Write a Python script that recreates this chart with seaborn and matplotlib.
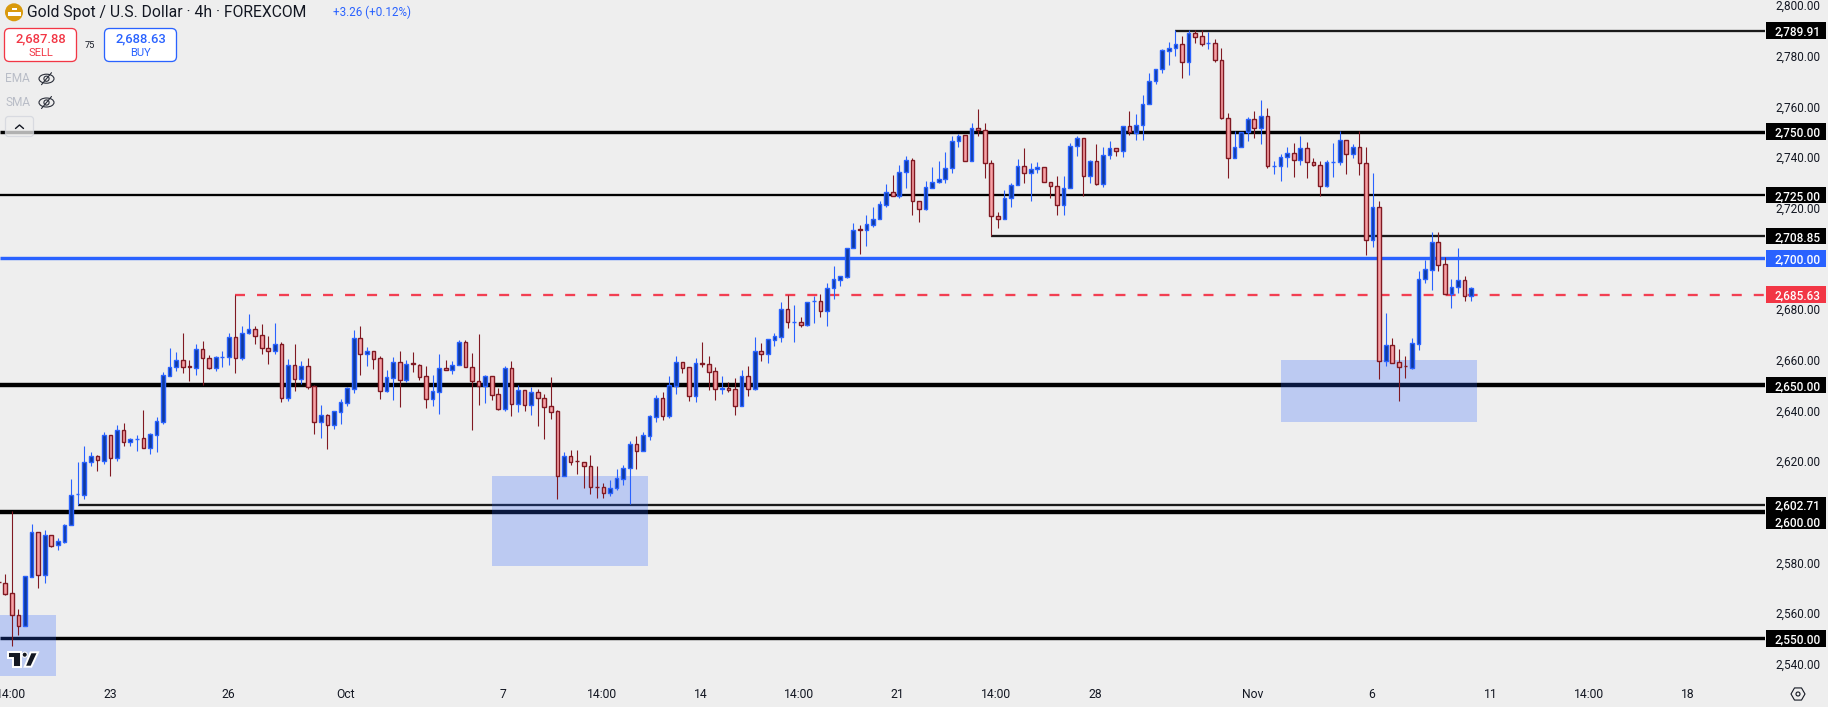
import numpy as np
import pandas as pd
import matplotlib
matplotlib.use("Agg")
import matplotlib.pyplot as plt
import matplotlib.transforms as mtransforms
from matplotlib.patches import Rectangle, FancyBboxPatch, Circle, Ellipse, Polygon, RegularPolygon
import seaborn as sns

# 4h candles
opens = [
    2572.3,2571.8,2567.8,2559.2,2555.1,2574.4,2591.9,2575.2,2590.7,2586.7,
    2588.2,2594.6,2606.9,2606.8,2619.6,2621.9,2620.2,2630.2,2621.4,2632.2,
    2627.7,2628.8,2629.0,2625.3,2630.4,2635.6,2653.7,2657.0,2660.1,2657.4,
    2656.8,2664.4,2660.5,2656.8,2660.9,2661.2,2668.8,2660.8,2670.7,2672.3,
    2669.6,2664.8,2663.5,2666.4,2645.0,2658.1,2652.5,2657.7,2649.5,2635.6,
    2638.1,2634.4,2639.5,2643.0,2648.6,2668.4,2662.3,2663.3,2660.5,2647.8,
    2652.9,2659.3,2652.1,2658.6,2658.1,2653.4,2644.6,2647.4,2656.6,2655.8,
    2658.1,2667.2,2657.3,2651.8,2649.7,2653.4,2646.3,2640.7,2656.6,2642.7,
    2647.9,2642.3,2647.1,2645.1,2641.6,2639.6,2614.3,2621.9,2620.1,2619.6,
    2618.0,2609.8,2609.7,2607.6,2609.2,2613.1,2617.1,2626.6,2623.8,2630.1,
    2637.5,2644.8,2637.9,2649.7,2659.3,2657.0,2645.8,2658.9,2658.5,2655.4,
    2648.6,2648.7,2648.3,2641.9,2653.4,2648.6,2663.6,2662.3,2667.8,2669.0,
    2680.2,2675.0,2675.1,2673.8,2683.1,2683.3,2679.3,2688.5,2691.6,2692.8,
    2704.2,2711.5,2711.4,2713.3,2715.6,2721.1,2726.4,2724.8,2734.1,2739.0,
    2722.8,2719.6,2727.8,2730.2,2731.4,2735.7,2746.5,2748.8,2738.4,2751.6,
    2750.8,2737.7,2716.8,2715.4,2723.7,2728.9,2736.5,2733.6,2735.2,2736.1,
    2730.2,2728.6,2721.2,2727.7,2744.3,2747.6,2732.5,2738.5,2729.2,2740.8,
    2743.7,2742.3,2752.4,2749.7,2752.6,2760.9,2770.0,2774.8,2781.9,2783.1,
    2784.8,2777.6,2788.8,2787.6,2784.9,2785.2,2778.5,2755.5,2739.6,2744.1,
    2749.9,2755.1,2751.5,2756.3,2736.4,2736.4,2740.0,2741.7,2738.8,2743.7,
    2738.1,2736.9,2728.5,2738.0,2738.0,2746.8,2741.2,2744.1,2737.7,2707.1,
    2720.3,2659.6,2665.7,2659.0,2657.5,2656.9,2666.4,2691.7,2695.6,2706.5,
    2697.8,2686.1,2688.7,2691.4,2685.0,
]
highs = [
    2572.6,2575.5,2600.3,2561.7,2574.5,2595.1,2591.9,2592.8,2590.7,2589.6,
    2595.1,2613.0,2619.6,2626.0,2623.6,2622.4,2631.5,2630.2,2634.3,2635.0,
    2629.1,2630.3,2640.2,2631.1,2637.4,2655.1,2664.6,2663.0,2670.5,2659.8,
    2666.1,2667.3,2661.8,2661.4,2663.4,2670.5,2685.4,2673.2,2678.0,2673.2,
    2674.0,2669.3,2674.4,2666.9,2660.2,2666.1,2659.4,2660.6,2650.0,2642.1,
    2638.6,2639.6,2644.5,2649.2,2671.7,2673.2,2665.0,2663.3,2661.4,2655.9,
    2661.0,2663.4,2659.8,2663.0,2658.5,2657.5,2653.9,2662.2,2659.8,2659.4,
    2667.7,2667.7,2662.6,2670.0,2653.9,2653.4,2648.8,2657.5,2659.7,2650.0,
    2647.9,2649.2,2648.4,2646.5,2653.1,2640.2,2623.6,2624.4,2624.4,2619.6,
    2622.4,2618.1,2611.4,2612.6,2616.9,2618.5,2628.0,2629.9,2631.4,2638.2,
    2646.1,2647.2,2653.5,2661.4,2659.3,2657.0,2660.6,2666.9,2661.4,2657.1,
    2653.5,2651.2,2652.8,2655.9,2657.5,2668.9,2666.5,2668.0,2670.5,2682.7,
    2685.4,2681.5,2676.8,2682.9,2685.0,2685.8,2690.2,2697.0,2692.9,2704.3,
    2713.9,2713.1,2717.1,2720.2,2722.6,2729.3,2732.8,2736.7,2740.3,2739.5,
    2722.8,2730.4,2736.0,2738.3,2741.9,2748.2,2749.2,2748.8,2753.3,2758.8,
    2753.3,2739.0,2718.5,2727.0,2729.9,2739.4,2743.4,2737.5,2737.9,2736.1,
    2730.2,2732.7,2732.7,2745.4,2748.3,2747.6,2739.0,2745.0,2743.8,2746.2,
    2743.7,2752.4,2758.0,2756.9,2764.4,2773.1,2774.9,2782.6,2785.4,2790.2,
    2787.7,2790.1,2790.0,2790.0,2789.3,2786.5,2783.0,2757.3,2750.1,2750.0,
    2755.7,2758.0,2762.4,2759.2,2738.3,2741.4,2743.8,2745.4,2748.5,2745.8,
    2739.8,2738.3,2739.0,2745.4,2750.1,2746.8,2745.0,2750.1,2743.8,2733.9,
    2722.8,2678.5,2668.6,2664.2,2661.5,2668.6,2695.1,2699.5,2710.6,2710.6,
    2700.7,2692.0,2704.2,2693.1,2688.8,
]
lows = [
    2572.0,2567.2,2547.2,2551.4,2555.1,2574.4,2569.9,2571.9,2586.1,2584.9,
    2587.8,2594.6,2602.8,2605.2,2618.1,2616.1,2618.9,2614.2,2620.1,2626.0,
    2626.0,2624.0,2625.3,2622.8,2623.6,2634.6,2653.7,2655.5,2654.7,2651.6,
    2653.9,2650.0,2656.3,2655.5,2657.1,2657.9,2654.7,2659.8,2670.1,2666.1,
    2662.2,2658.3,2662.2,2643.3,2643.7,2647.6,2650.4,2648.4,2630.7,2629.1,
    2624.8,2632.7,2634.6,2641.7,2646.9,2653.9,2657.5,2656.3,2644.5,2647.2,
    2644.1,2641.3,2651.2,2655.1,2652.0,2640.9,2641.7,2638.6,2655.8,2654.3,
    2658.1,2657.2,2632.3,2642.1,2642.9,2644.1,2640.2,2639.8,2637.8,2639.4,
    2639.8,2638.2,2633.9,2628.7,2636.6,2605.1,2614.3,2618.5,2615.0,2609.4,
    2607.1,2605.5,2605.5,2606.3,2608.4,2610.6,2603.1,2616.9,2623.8,2628.3,
    2635.4,2636.2,2637.0,2646.5,2654.7,2643.7,2643.3,2657.1,2648.0,2644.1,
    2646.5,2647.2,2638.2,2641.9,2645.7,2648.0,2659.4,2658.7,2665.4,2666.9,
    2672.4,2666.9,2672.8,2673.2,2674.4,2676.8,2673.2,2684.1,2689.1,2692.3,
    2704.2,2701.7,2704.9,2712.5,2715.6,2720.2,2724.7,2723.8,2727.7,2717.1,
    2714.3,2719.0,2727.8,2729.7,2729.7,2733.6,2743.8,2738.4,2738.4,2748.5,
    2731.9,2709.0,2712.1,2715.4,2720.4,2728.9,2729.9,2722.8,2733.9,2730.1,
    2724.0,2717.3,2717.3,2727.7,2740.6,2724.8,2729.6,2728.8,2728.0,2739.1,
    2740.6,2740.2,2748.9,2746.6,2746.6,2760.9,2768.7,2773.1,2776.3,2779.8,
    2771.1,2772.3,2785.0,2783.8,2782.6,2777.4,2754.9,2731.9,2739.6,2744.1,
    2746.2,2747.4,2745.0,2735.5,2733.5,2730.7,2735.9,2732.3,2736.7,2731.9,
    2736.3,2724.8,2728.0,2732.3,2736.7,2733.5,2739.8,2733.1,2701.5,2704.6,
    2652.4,2657.5,2658.8,2643.7,2652.8,2656.3,2663.9,2690.4,2687.6,2695.1,
    2686.1,2680.5,2686.4,2683.2,2683.2,
]
closes = [
    2572.1,2567.7,2559.1,2555.1,2574.5,2591.9,2575.2,2590.7,2586.6,2588.3,
    2594.6,2606.6,2607.0,2619.6,2621.9,2620.3,2630.2,2621.4,2632.2,2627.7,
    2628.6,2628.9,2625.3,2630.6,2635.7,2653.8,2657.0,2660.1,2657.2,2657.3,
    2664.4,2660.5,2656.8,2660.9,2661.0,2668.8,2660.8,2670.7,2672.3,2669.4,
    2664.7,2663.5,2666.4,2645.0,2658.1,2652.5,2657.7,2649.3,2635.6,2638.1,
    2634.4,2639.6,2643.2,2648.7,2668.4,2662.3,2663.3,2660.4,2647.8,2653.0,
    2659.3,2652.1,2658.5,2658.5,2653.3,2644.6,2647.5,2656.6,2655.8,2658.1,
    2667.2,2657.2,2651.8,2649.7,2653.4,2646.2,2640.7,2656.6,2642.7,2647.9,
    2642.3,2647.1,2645.0,2641.5,2639.5,2614.3,2621.9,2619.8,2620.0,2617.9,
    2609.6,2609.7,2607.6,2609.3,2613.3,2617.2,2626.6,2623.8,2630.2,2637.7,
    2644.8,2637.9,2649.9,2659.3,2656.8,2645.8,2658.9,2658.3,2655.2,2648.4,
    2648.7,2648.2,2641.9,2653.4,2648.6,2663.6,2662.3,2668.0,2669.2,2680.2,
    2674.9,2675.1,2673.8,2682.9,2683.2,2679.1,2688.5,2691.7,2692.9,2704.3,
    2711.4,2711.4,2713.4,2715.7,2721.3,2726.4,2724.7,2734.3,2739.0,2722.7,
    2719.6,2728.0,2730.3,2731.5,2735.8,2746.5,2748.4,2738.4,2751.6,2750.7,
    2737.6,2716.6,2715.4,2723.9,2729.0,2736.5,2733.6,2735.4,2736.1,2730.1,
    2728.5,2721.2,2727.8,2744.5,2747.6,2732.5,2738.5,2729.2,2740.9,2743.7,
    2742.3,2752.4,2749.9,2752.8,2761.1,2770.2,2774.9,2782.1,2783.2,2784.8,
    2777.6,2788.8,2787.5,2784.7,2785.0,2778.4,2755.4,2739.6,2744.1,2750.0,
    2755.1,2751.5,2756.3,2736.4,2736.5,2740.1,2741.7,2738.8,2743.7,2738.0,
    2736.8,2728.5,2738.1,2738.1,2746.8,2741.2,2744.1,2737.6,2707.1,2720.3,
    2659.6,2665.7,2658.8,2657.3,2657.4,2666.5,2691.8,2695.8,2706.5,2697.6,
    2686.1,2688.7,2691.4,2685.0,2688.3,
]

# horizontal levels: price, first bar
black_levels = [2789.91, 2750.00, 2725.00, 2708.85, 2650.00, 2602.71, 2600.00, 2550.00]
black_starts = [179, 0, 0, 151, 0, 12, 0, 0]
blue_level = 2700.00
last_price = 2685.63
last_start = 36

# support zones: first bar, last bar, top, bottom
zone_first = [-1, 75, 195.1]
zone_last = [8.7, 98.8, 224.9]
zone_top = [2559.3, 2614.2, 2659.9]
zone_bottom = [2535.0, 2578.4, 2635.4]

price_ticks = [2800, 2780, 2760, 2740, 2720, 2680, 2660, 2640, 2620, 2580, 2560, 2540]
time_ticks = [1.9, 16.9, 34.9, 52.8, 76.7, 91.8, 106.8, 121.7, 136.7, 151.7, 166.8, 190.7, 208.9, 227, 242, 257]
time_labels = ["14:00", "23", "26", "Oct", "7", "14:00", "14", "14:00", "21", "14:00", "28", "Nov", "6", "11", "14:00", "18"]

BG = "#eeeeee"
BLUE = "#2962ff"
BLUE_FILL = "#0f3a9e"
RED_EDGE = "#801922"
RED_FILL = "#f7a1a5"
RED_TAG = "#f23645"
TEXT = "#131722"
W, H = 1828, 707
PX = 0.72  # one pixel in points at dpi 100

sns.set_theme(style="white", rc={"figure.facecolor": BG, "axes.facecolor": BG})
plt.rcParams["font.family"] = ["Roboto", "DejaVu Sans"]

df = pd.DataFrame({"open": opens, "high": highs, "low": lows, "close": closes})
df["bar"] = df.index
df["body_bottom"] = df[["open", "close"]].min(axis=1)
df["body_height"] = (df["close"] - df["open"]).abs()
up = df[df["close"] >= df["open"]]
down = df[df["close"] < df["open"]]

fig = plt.figure(figsize=(W / 100, H / 100), dpi=100)
ax = fig.add_axes([0, (H - 680) / H, 1765 / W, 680 / H])

x_left, x_right = 0.19, 268.7
y_low, y_high = 2533.6, 2802.0

# levels sit under the zones, the candles on top of both
for price, start in zip(black_levels, black_starts):
    heavy = price in (2650.00, 2600.00)
    medium = price in (2750.00, 2550.00)
    lw = 4.4 if heavy else 3.4 if medium else 2.3
    ax.hlines(price, start if start else x_left, x_right, color="#000000" if start == 0 else "#1a1a1a",
              lw=lw * PX, zorder=1)
ax.hlines(blue_level, x_left, x_right, color=BLUE, lw=3.4 * PX, zorder=1)
ax.plot([last_start, x_right], [last_price, last_price], color="#f23f52", lw=2.3 * PX,
        linestyle=(0, (4.35, 5.22)), dash_capstyle="butt", zorder=1)

for first, last, top_price, bottom_price in zip(zone_first, zone_last, zone_top, zone_bottom):
    ax.add_patch(Rectangle((first, bottom_price), last - first, top_price - bottom_price, facecolor=BLUE,
                           alpha=0.25, edgecolor="none", zorder=2))

ax.vlines(up["bar"], up["low"], up["high"], color=BLUE, lw=1.1 * PX, zorder=3)
ax.vlines(down["bar"], down["low"], down["high"], color=RED_EDGE, lw=1.1 * PX, zorder=3)
sns.barplot(data=up, x="bar", y="body_height", bottom=up["body_bottom"].to_numpy(), native_scale=True,
            width=0.56, color=BLUE_FILL, saturation=1, errorbar=None, edgecolor=BLUE,
            linewidth=1.4 * PX, zorder=4, ax=ax)
sns.barplot(data=down, x="bar", y="body_height", bottom=down["body_bottom"].to_numpy(), native_scale=True,
            width=0.56, color=RED_FILL, saturation=1, errorbar=None, edgecolor=RED_EDGE,
            linewidth=1.4 * PX, zorder=4, ax=ax)

ax.set_xlim(x_left, x_right)
ax.set_ylim(y_low, y_high)
ax.set_xlabel("")
ax.set_ylabel("")
sns.despine(ax=ax, left=True, bottom=True)

ax.yaxis.tick_right()
ax.set_yticks(price_ticks)
ax.set_yticklabels([f"{v:,.2f}" for v in price_ticks], ha="right", fontsize=8.5, color=TEXT)
ax.tick_params(axis="y", length=0, pad=55 * PX)
ax.set_xticks(time_ticks)
ax.set_xticklabels(time_labels, fontsize=8.7, color=TEXT)
ax.tick_params(axis="x", length=0, pad=8 * PX)

# price tags on the scale
tag_tf = mtransforms.blended_transform_factory(fig.transFigure, ax.transData)
tag_h = 16.7 / 2.533
tag_rows = [(v, v, "#000000") for v in black_levels]
tag_rows[6] = (2600.00, 2596.3, "#000000")
tag_rows += [(blue_level, blue_level, BLUE), (last_price, last_price, RED_TAG)]
for value, centre, colour in tag_rows:
    ax.add_patch(Rectangle((1766 / W, centre - tag_h / 2), 60 / W, tag_h, transform=tag_tf, facecolor=colour,
                           edgecolor="none", clip_on=False, zorder=5))
    ax.text(1820.5 / W, centre, f"{value:,.2f}", transform=tag_tf, ha="right", va="center_baseline",
            fontsize=8.5, fontweight="medium", color="white", zorder=6, clip_on=False)

# header and small widgets, placed in picture pixels
top = fig.add_axes([0, 0, 1, 1], facecolor="none", zorder=10)
top.set_xlim(0, W)
top.set_ylim(H, 0)
top.axis("off")

top.add_patch(Circle((14, 12.3), 9, facecolor="#d99a0d", edgecolor="none"))
top.add_patch(Rectangle((11.5, 7.5), 5, 2.5, facecolor="white", edgecolor="none"))
top.add_patch(Rectangle((7.5, 11.5), 13, 4.5, facecolor="white", edgecolor="none"))
top.text(27, 12.5, "Gold Spot / U.S. Dollar · 4h · FOREXCOM", fontsize=11.3, color=TEXT, va="center", ha="left")
top.text(333, 12.5, "+3.26 (+0.12%)", fontsize=8.4, color=BLUE, va="center", ha="left")

for x0, colour, price, word in [(4.5, RED_TAG, "2,687.88", "SELL"), (104.5, BLUE, "2,688.63", "BUY")]:
    top.add_patch(FancyBboxPatch((x0, 28.5), 72, 33, boxstyle="round,pad=0,rounding_size=5",
                                 facecolor="white", edgecolor=colour, lw=1 * PX * 1.3, zorder=2))
    top.text(x0 + 36, 38.5, price, fontsize=9.4, fontweight="medium", color=colour, ha="center", va="center", zorder=3)
    top.text(x0 + 36, 53, word, fontsize=8, color=colour, ha="center", va="center", zorder=3)
top.text(90, 45.5, "75", fontsize=6.6, color=TEXT, ha="center", va="center")

for y, name in [(78.7, "EMA"), (102.5, "SMA")]:
    top.text(5, y, name, fontsize=8.6, color="#b9bdc7", ha="left", va="center")
    top.add_patch(Ellipse((46.5, y), 15, 9, facecolor="none", edgecolor="#2a2e39", lw=0.8))
    top.add_patch(Circle((46.5, y), 2.6, facecolor="none", edgecolor="#2a2e39", lw=0.8))
    top.plot([41.5, 51.5], [y + 6, y - 6], color="#2a2e39", lw=0.8)

top.add_patch(FancyBboxPatch((5.5, 116.5), 28, 20, boxstyle="round,pad=0,rounding_size=3",
                             facecolor=BG, alpha=0.75, edgecolor="#d1d4dc", lw=0.9))
top.plot([15.5, 19.5, 23.5], [128.5, 125, 128.5], color=TEXT, lw=1.0)

# TradingView mark
logo_t = [(8, 652), (20.7, 652), (20.7, 666.7), (13.3, 666.7), (13.3, 658.3), (8, 658.3)]
logo_slash = [(30.7, 652.3), (38, 652.3), (31.3, 666.7), (24.7, 666.7)]
for pts in (logo_t, logo_slash):
    top.add_patch(Polygon(pts, closed=True, facecolor=TEXT, edgecolor="white", lw=1.4))
top.add_patch(Circle((24.7, 654.7), 2.6, facecolor=TEXT, edgecolor="white", lw=0.8))

# settings hexagon at the corner of the scales
top.add_patch(RegularPolygon((1798, 694), 6, radius=7, orientation=np.pi / 2, facecolor="none",
                             edgecolor=TEXT, lw=0.8))
top.add_patch(Circle((1798, 694), 2, facecolor="none", edgecolor=TEXT, lw=0.8))

fig.savefig("out.png", dpi=100, facecolor=BG)
